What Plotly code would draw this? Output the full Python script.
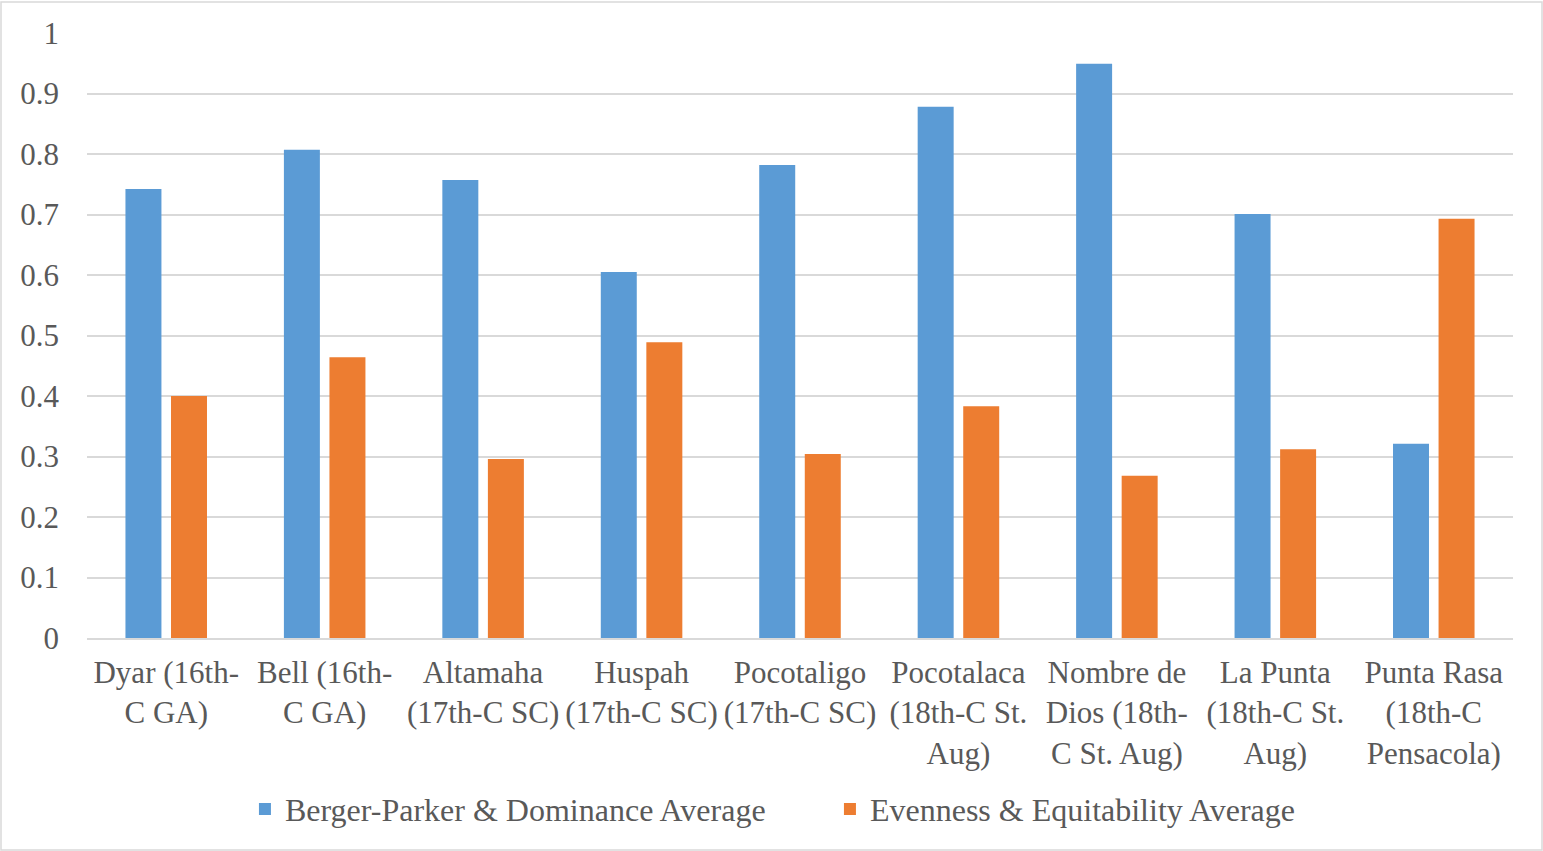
import plotly.graph_objects as go

categories = [
    "Dyar (16th-<br>C GA)",
    "Bell (16th-<br>C GA)",
    "Altamaha<br>(17th-C SC)",
    "Huspah<br>(17th-C SC)",
    "Pocotaligo<br>(17th-C SC)",
    "Pocotalaca<br>(18th-C St.<br>Aug)",
    "Nombre de<br>Dios (18th-<br>C St. Aug)",
    "La Punta<br>(18th-C St.<br>Aug)",
    "Punta Rasa<br>(18th-C<br>Pensacola)",
]
dominance = [0.742, 0.807, 0.757, 0.605, 0.782, 0.878, 0.949, 0.701, 0.321]
evenness = [0.400, 0.464, 0.296, 0.489, 0.304, 0.383, 0.268, 0.312, 0.693]
y_ticks = [0, 0.1, 0.2, 0.3, 0.4, 0.5, 0.6, 0.7, 0.8, 0.9, 1]
y_tick_text = ["0", "0.1", "0.2", "0.3", "0.4", "0.5", "0.6", "0.7", "0.8", "0.9", "1"]

FONT = "Liberation Serif, Times New Roman, serif"
TEXT = "#595959"

fig = go.Figure()
fig.add_trace(go.Bar(x=categories, y=dominance, name="Berger-Parker & Dominance Average",
                     marker=dict(color="#5B9BD5", line=dict(width=0))))
fig.add_trace(go.Bar(x=categories, y=evenness, name="Evenness & Equitability Average",
                     marker=dict(color="#ED7D31", line=dict(width=0))))

W, H = 1543, 851
ml, mr, mt, mb = 87, 30, 33, 213

fig.update_layout(
    width=W, height=H,
    margin=dict(l=ml, r=mr, t=mt, b=mb, autoexpand=False),
    paper_bgcolor="white", plot_bgcolor="white",
    barmode="group", bargap=0.425, bargroupgap=0.21,
    font=dict(family=FONT, size=31, color=TEXT),
    showlegend=True,
    legend=dict(orientation="h", x=0.521, xanchor="center",
                y=-0.283, yanchor="middle",
                font=dict(family=FONT, size=32, color=TEXT),
                entrywidth=540, itemwidth=30, traceorder="normal"),
    xaxis=dict(showgrid=False, showline=True, linecolor="#D9D9D9", linewidth=1.5,
               ticks="", tickfont=dict(family=FONT, size=31, color=TEXT),
               ticklabelstandoff=6, tickangle=0),
    yaxis=dict(range=[0, 1], tickvals=y_ticks, ticktext=y_tick_text,
               showgrid=True, gridcolor="#D9D9D9", gridwidth=1.5,
               zeroline=False, showline=False, ticks="",
               tickfont=dict(family=FONT, size=31, color=TEXT),
               ticklabelstandoff=27),
)

# thin frame around the whole chart area
pw = W - ml - mr
ph = H - mt - mb
fig.add_shape(type="rect", xref="paper", yref="paper",
              x0=(1 - ml) / pw, x1=(W - 1 - ml) / pw,
              y0=-(H - 1 - mt - ph) / ph, y1=(ph + mt - 2) / ph,
              line=dict(color="#D9D9D9", width=1.5), fillcolor="rgba(0,0,0,0)", layer="below")

fig.write_html("out.html")
